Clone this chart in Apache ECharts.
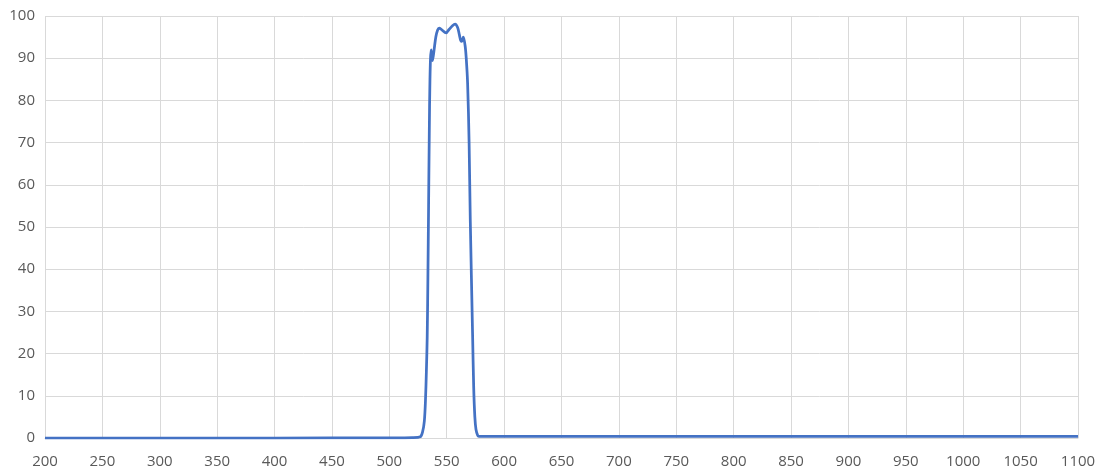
<!DOCTYPE html>
<html>
<head>
    <meta charset="utf-8">
    <title>Transmission</title>
    <script src="https://cdn.jsdelivr.net/npm/echarts@6/dist/echarts.min.js"></script>
    <style>
        html, body { margin: 0; padding: 0; background: #fff; }
        #chart { width: 1104px; height: 474px; }
    </style>
</head>
<body>
<div id="chart"></div>
<script type="text/javascript">
    // wavelength (nm) and transmission (%)
    var wavelength = [200, 300, 400, 500, 520, 527, 529, 530.5, 531.5, 532.3, 533, 533.6, 534.2, 534.8, 535.4, 536.4, 537.6, 539, 540.5, 542, 543.4, 545, 549.5, 552, 555, 557.3, 559.5, 561, 562.5, 563.5, 564.5, 566, 567, 568.2, 569.5, 570.5, 572.5, 573.5, 574.5, 575.5, 577, 578, 580, 600, 700, 800, 900, 1000, 1100];
    var transmission = [0, 0, 0, 0.05, 0.1, 0.3, 1.5, 4, 9, 16, 24, 38, 55, 72, 85, 92, 89.4, 92, 95, 96.6, 97.1, 96.9, 96, 96.8, 97.7, 98.1, 97.3, 95.6, 94, 94.2, 95, 93, 90, 84, 70, 52, 25, 12, 5, 2, 0.6, 0.4, 0.4, 0.4, 0.4, 0.4, 0.4, 0.4, 0.4];
    var yTicks = [0, 10, 20, 30, 40, 50, 60, 70, 80, 90, 100];

    var points = [];
    for (var i = 0; i < wavelength.length; i++) {
        points.push([wavelength[i], transmission[i]]);
    }

    var myChart = echarts.init(document.getElementById('chart'));
    var option = {
        animation: false,
        grid: {
            left: 45,
            right: 26,
            top: 16,
            bottom: 36
        },
        xAxis: {
            type: 'value',
            min: 200,
            max: 1100,
            interval: 50,
            axisLine: { show: true, lineStyle: { color: '#d9d9d9', width: 1 } },
            axisTick: { show: false },
            axisLabel: {
                color: '#595959',
                fontSize: 15,
                fontFamily: 'Open Sans',
                margin: 16,
                formatter: function (v) { return String(v); }
            },
            splitLine: { show: true, lineStyle: { color: '#d9d9d9', width: 1 } }
        },
        yAxis: {
            type: 'value',
            min: yTicks[0],
            max: yTicks[yTicks.length - 1],
            interval: 10,
            axisLine: { show: false },
            axisTick: { show: false },
            axisLabel: {
                color: '#595959',
                fontSize: 15,
                fontFamily: 'Open Sans',
                margin: 10
            },
            splitLine: { show: true, lineStyle: { color: '#d9d9d9', width: 1 } }
        },
        series: [
            {
                type: 'line',
                data: points,
                smooth: 0.3,
                showSymbol: false,
                lineStyle: { color: '#4472c4', width: 2.75 },
                itemStyle: { color: '#4472c4' }
            }
        ]
    };
    myChart.setOption(option);
</script>
</body>
</html>
